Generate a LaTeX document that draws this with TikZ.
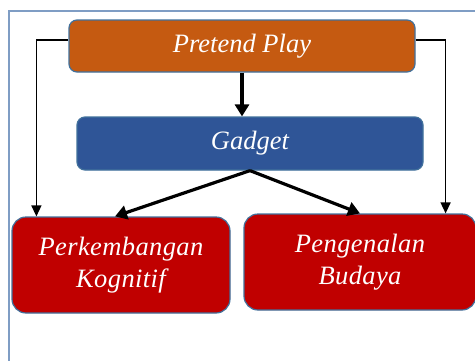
\documentclass[tikz,border=0pt]{standalone}
\usepackage{fontspec}
\setmainfont{Liberation Serif}
\usetikzlibrary{arrows.meta,calc}
\definecolor{ppor}{HTML}{C55A11}
\definecolor{gdbl}{HTML}{2F5597}
\definecolor{bxred}{HTML}{C00000}
\definecolor{bxedge}{HTML}{41719C}
\definecolor{frameblue}{HTML}{7F9DC4}
\tikzset{
  box/.style={draw=bxedge, line width=1.2pt, text=white, align=center,
    font=\fontsize{26.5}{32}\selectfont\itshape, inner sep=0pt},
  topbox/.style={box, rounded corners=8pt},
  lowbox/.style={box, rounded corners=14pt},
  bigarrow/.style={line width=3.2pt, -{Triangle[length=12pt,width=14pt]}},
  thinarrow/.style={line width=1.4pt, -{Triangle[length=11pt,width=10pt]}}
}
\begin{document}
\begin{tikzpicture}[x=1pt,y=-1pt]
\useasboundingbox (0,0) rectangle (475,360);
\clip (0,0) rectangle (475,360);
\fill[white] (0,0) rectangle (475,360);
\draw[frameblue, line width=1.6pt] (9,380) -- (9,11) -- (490,11);
\node[topbox, fill=ppor, minimum width=346pt, minimum height=52pt] (pp) at (242,46) {Pretend Play};
\node[topbox, fill=gdbl, minimum width=346pt, minimum height=53pt] (gd) at (250,143.5) {Gadget};
\node[lowbox, fill=bxred, minimum width=218pt, minimum height=96pt] (pk) at (121,265)
  {\addfontfeatures{LetterSpace=1.5}Perkembangan\\\addfontfeatures{LetterSpace=1.5}Kognitif};
\node[lowbox, fill=bxred, minimum width=232pt, minimum height=96pt] (pb) at (360,262)
  {\addfontfeatures{LetterSpace=1.5}Pengenalan\\\addfontfeatures{LetterSpace=1.5}Budaya};
\draw[bigarrow] (pp.south) -- (pp.south |- gd.north);
\draw[bigarrow] (gd.south) -- ($(pk.north)+(-6,0)$);
\draw[bigarrow] (gd.south) -- (pb.north);
\draw[thinarrow] ($(pp.west)+(0,-6)$) -| ($(pk.north west)+(25,0)$);
\draw[thinarrow] ($(pp.east)+(0,-6)$) -| ($(pb.north east)+(-31,0)$);
\end{tikzpicture}
\end{document}
